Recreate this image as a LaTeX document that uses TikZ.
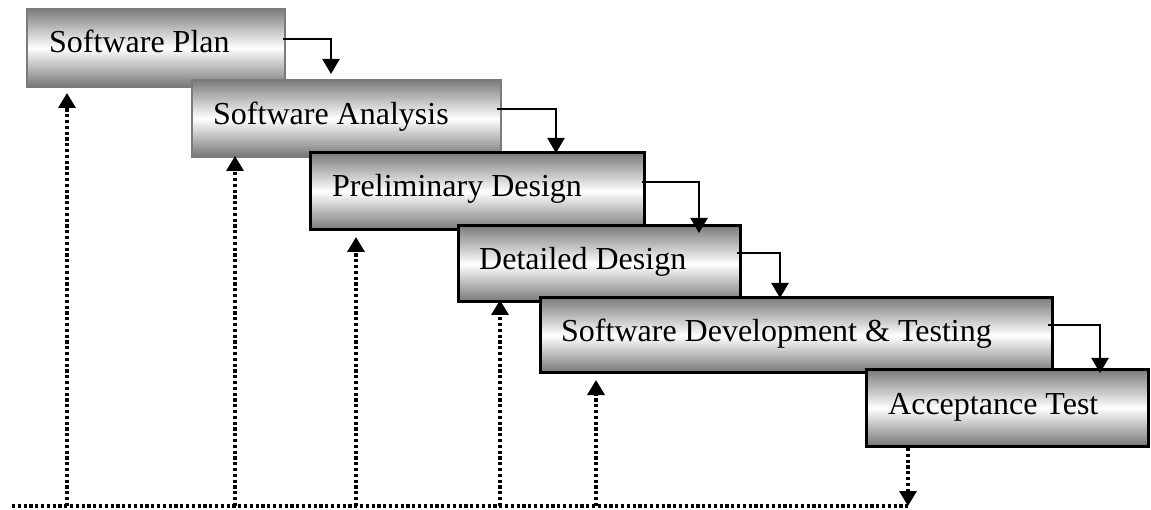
\documentclass[tikz,border=0pt]{standalone}
\usepackage{fontspec}
\setmainfont{Liberation Serif}
\usetikzlibrary{arrows.meta}
\definecolor{boxgray}{HTML}{7C7C7C}
\definecolor{edgegray}{HTML}{7A7A7A}
\tikzset{
  phase/.style={draw=black, line width=3pt, top color=boxgray, bottom color=boxgray!95!black, middle color=white, inner sep=0pt, outer sep=0pt},
  phasegray/.style={phase, draw=edgegray, line width=2.5pt},
  label/.style={anchor=base west, inner sep=0pt, font=\fontsize{32}{38}\selectfont},
  flow/.style={line width=2.2pt, -{Triangle[width=17pt,length=15pt]}},
  back/.style={line width=3.4pt, dash pattern=on 3.2pt off 2.6pt, -{Triangle[width=17pt,length=15pt]}},
  baseline/.style={line width=3.4pt, dash pattern=on 3.2pt off 2.6pt}
}
\begin{document}
\begin{tikzpicture}[x=1pt,y=-1pt]
\useasboundingbox (0,0) rectangle (1151,510);
% boxes
\path[phasegray] (27,9) rectangle (285,87);
\node[inner sep=0pt, minimum size=0pt] (b1) at (156,48) {};
\path[phasegray] (192,80) rectangle (501,157);
\node[inner sep=0pt] (b2) at (346,118) {};
\path[phase] (310,153) rectangle (644,230);
\node[inner sep=0pt] (b3) at (477,191) {};
\path[phase] (458,226) rectangle (740,302);
\node[inner sep=0pt] (b4) at (599,264) {};
\path[phase] (540,298) rectangle (1052,373);
\node[inner sep=0pt] (b5) at (796,335) {};
\path[phase] (866,370) rectangle (1148,446);
\node[inner sep=0pt] (b6) at (1007,408) {};
% labels
\node[label] (t1) at (49,53) {Software Plan};
\node[label] (t2) at (213,125) {Software Analysis};
\node[label] (t3) at (332,197) {Preliminary Design};
\node[label] (t4) at (479,270) {Detailed Design};
\node[label] (t5) at (561,342) {Software Development \& Testing};
\node[label] (t6) at (888,414) {Acceptance Test};
% solid elbow connectors
\coordinate (s1) at (283,39);  \coordinate (e1) at (331,74);
\coordinate (s2) at (497,109); \coordinate (e2) at (556,153);
\coordinate (s3) at (642,182); \coordinate (e3) at (699,233);
\coordinate (s4) at (737,253); \coordinate (e4) at (780,298);
\coordinate (s5) at (1048,325);\coordinate (e5) at (1100,373);
\draw[flow] (s1) -| (e1);
\draw[flow] (s2) -| (e2);
\draw[flow] (s3) -| (e3);
\draw[flow] (s4) -| (e4);
\draw[flow] (s5) -| (e5);
% feedback dotted lines
\coordinate (l0) at (12,506);
\coordinate (l6) at (908,506);
\coordinate (f1) at (67,506);  \coordinate (g1) at (67,93);
\coordinate (f2) at (235,506); \coordinate (g2) at (235,156);
\coordinate (f3) at (356,506); \coordinate (g3) at (356,237);
\coordinate (f4) at (500,506); \coordinate (g4) at (500,300);
\coordinate (f5) at (596,506); \coordinate (g5) at (596,380);
\coordinate (d6) at (908,448);
\draw[baseline] (l0) -- (l6);
\draw[back] (f1) -- (g1);
\draw[back] (f2) -- (g2);
\draw[back] (f3) -- (g3);
\draw[back] (f4) -- (g4);
\draw[back] (f5) -- (g5);
\draw[back] (d6) -- (l6);
\end{tikzpicture}
\end{document}
